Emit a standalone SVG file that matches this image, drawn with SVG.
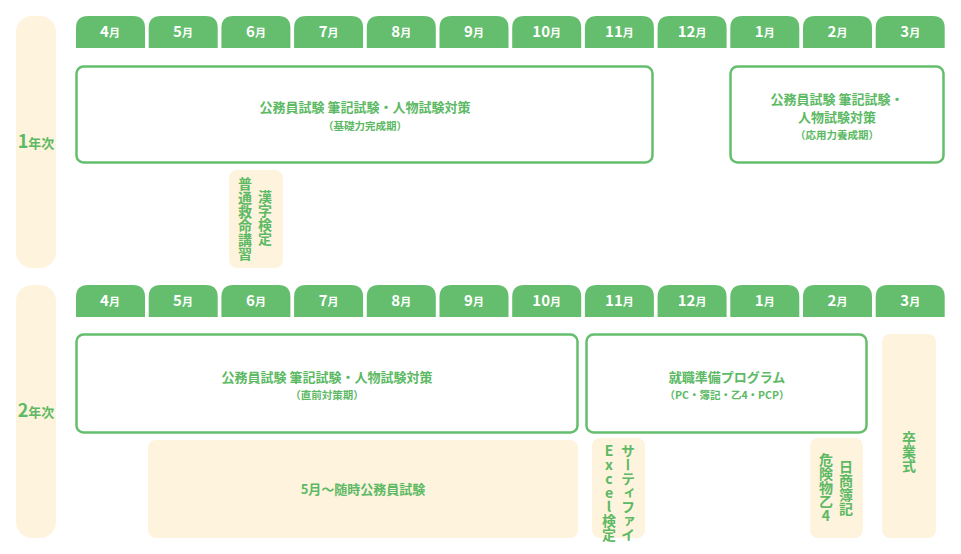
<svg xmlns="http://www.w3.org/2000/svg" width="961" height="554" viewBox="0 0 961 554">
<style>
.tab{fill:#64be6e}
.tt{fill:#fff;font-family:"Noto Sans CJK JP","Noto Sans",sans-serif;font-weight:700;font-size:15px;text-anchor:middle}
.tt tspan{font-size:11px}
.pill{fill:#fef3dc}
.box{fill:#fff;stroke:#64be6e;stroke-width:2.5}
.g{fill:#5cb964;font-family:"Noto Sans CJK JP","Noto Sans",sans-serif;font-weight:700;text-anchor:middle}
.t1{font-size:13px}
.t2{font-size:10.5px}
.v{fill:#5cb964;font-family:"Noto Sans CJK JP",sans-serif;font-weight:700;font-size:14px;writing-mode:vertical-rl;text-orientation:upright}
</style>
<defs>
<path id="tab" d="M0,32 V12 Q0,0 12,0 H57 Q69,0 69,12 V32 Z"/>
</defs>
<g id="year1">
<rect class="pill" x="16" y="16" width="40" height="252" rx="16"/>
<text class="g" x="36" y="148" font-size="18">1<tspan font-size="13">年次</tspan></text>
</g>
<g id="year2">
<rect class="pill" x="16" y="285" width="40" height="253" rx="16"/>
<text class="g" x="36" y="417" font-size="18">2<tspan font-size="13">年次</tspan></text>
</g>
<g id="tabs1">
<use href="#tab" class="tab" x="76" y="16"/><text class="tt" x="110" y="37">4<tspan>月</tspan></text>
<use href="#tab" class="tab" x="148.7" y="16"/><text class="tt" x="183" y="37">5<tspan>月</tspan></text>
<use href="#tab" class="tab" x="221.4" y="16"/><text class="tt" x="256" y="37">6<tspan>月</tspan></text>
<use href="#tab" class="tab" x="294.1" y="16"/><text class="tt" x="328.6" y="37">7<tspan>月</tspan></text>
<use href="#tab" class="tab" x="366.8" y="16"/><text class="tt" x="401.3" y="37">8<tspan>月</tspan></text>
<use href="#tab" class="tab" x="439.5" y="16"/><text class="tt" x="474" y="37">9<tspan>月</tspan></text>
<use href="#tab" class="tab" x="512.2" y="16"/><text class="tt" x="546.7" y="37">10<tspan>月</tspan></text>
<use href="#tab" class="tab" x="584.9" y="16"/><text class="tt" x="619.4" y="37">11<tspan>月</tspan></text>
<use href="#tab" class="tab" x="657.6" y="16"/><text class="tt" x="692.1" y="37">12<tspan>月</tspan></text>
<use href="#tab" class="tab" x="730.3" y="16"/><text class="tt" x="764.8" y="37">1<tspan>月</tspan></text>
<use href="#tab" class="tab" x="803" y="16"/><text class="tt" x="837.5" y="37">2<tspan>月</tspan></text>
<use href="#tab" class="tab" x="875.7" y="16"/><text class="tt" x="910.2" y="37">3<tspan>月</tspan></text>
</g>
<g id="tabs2">
<use href="#tab" class="tab" x="76" y="285"/><text class="tt" x="110" y="306">4<tspan>月</tspan></text>
<use href="#tab" class="tab" x="148.7" y="285"/><text class="tt" x="183" y="306">5<tspan>月</tspan></text>
<use href="#tab" class="tab" x="221.4" y="285"/><text class="tt" x="256" y="306">6<tspan>月</tspan></text>
<use href="#tab" class="tab" x="294.1" y="285"/><text class="tt" x="328.6" y="306">7<tspan>月</tspan></text>
<use href="#tab" class="tab" x="366.8" y="285"/><text class="tt" x="401.3" y="306">8<tspan>月</tspan></text>
<use href="#tab" class="tab" x="439.5" y="285"/><text class="tt" x="474" y="306">9<tspan>月</tspan></text>
<use href="#tab" class="tab" x="512.2" y="285"/><text class="tt" x="546.7" y="306">10<tspan>月</tspan></text>
<use href="#tab" class="tab" x="584.9" y="285"/><text class="tt" x="619.4" y="306">11<tspan>月</tspan></text>
<use href="#tab" class="tab" x="657.6" y="285"/><text class="tt" x="692.1" y="306">12<tspan>月</tspan></text>
<use href="#tab" class="tab" x="730.3" y="285"/><text class="tt" x="764.8" y="306">1<tspan>月</tspan></text>
<use href="#tab" class="tab" x="803" y="285"/><text class="tt" x="837.5" y="306">2<tspan>月</tspan></text>
<use href="#tab" class="tab" x="875.7" y="285"/><text class="tt" x="910.2" y="306">3<tspan>月</tspan></text>
</g>
<g id="n1">
<rect class="box" x="76.5" y="66.5" width="576" height="96" rx="7"/>
<text class="g t1" x="365" y="112">公務員試験 筆記試験・人物試験対策</text>
<text class="g t2" x="365" y="130">（基礎力完成期）</text>
</g>
<g id="n2">
<rect class="box" x="730.5" y="66.5" width="213" height="96" rx="7"/>
<text class="g t1" x="837" y="104">公務員試験 筆記試験・</text>
<text class="g t1" x="837" y="122">人物試験対策</text>
<text class="g t2" x="837" y="139">（応用力養成期）</text>
</g>
<g id="n3">
<rect class="pill" x="229" y="170" width="54" height="98" rx="8"/>
<text class="v" x="265" y="190">漢字検定</text>
<text class="v" x="245" y="177">普通救命講習</text>
</g>
<g id="n4">
<rect class="box" x="76.5" y="334.5" width="501" height="98" rx="7"/>
<text class="g t1" x="327" y="382">公務員試験 筆記試験・人物試験対策</text>
<text class="g t2" x="327" y="399">（直前対策期）</text>
</g>
<g id="n5">
<rect class="box" x="586.5" y="334.5" width="280" height="98" rx="7"/>
<text class="g t1" x="727" y="382">就職準備プログラム</text>
<text class="g t2" x="727" y="399">（PC・簿記・乙4・PCP）</text>
</g>
<g id="n6">
<rect class="pill" x="882" y="334" width="54" height="204" rx="8"/>
<text class="v" x="909" y="431">卒業式</text>
</g>
<g id="n7">
<rect class="pill" x="148" y="440" width="430" height="98" rx="8"/>
<text class="g t1" x="363" y="494">5月〜随時公務員試験</text>
</g>
<g id="n8">
<rect class="pill" x="592" y="438" width="53" height="100" rx="8"/>
<text class="v" x="628" y="444" font-size="13">サーティファイ</text>
<text class="v" x="609" y="444" font-size="13">Excel検定</text>
</g>
<g id="n9">
<rect class="pill" x="810" y="438" width="53" height="100" rx="8"/>
<text class="v" x="846" y="460">日商簿記</text>
<text class="v" x="826" y="453">危険物乙4</text>
</g>
</svg>
